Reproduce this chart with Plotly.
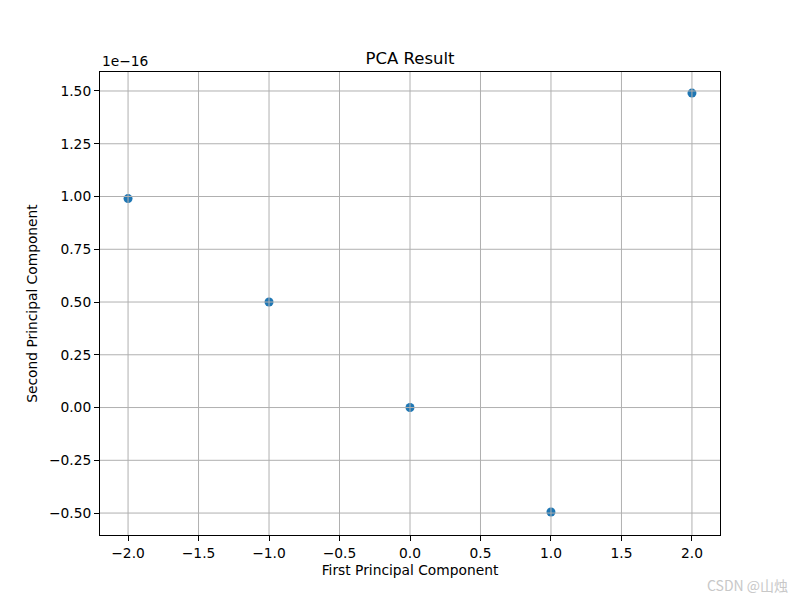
import plotly.graph_objects as go

# Data (second component in units of 1e-16)
pc1 = [-2.0, -1.0, 0.0, 1.0, 2.0]
pc2_e16 = [0.99, 0.50, 0.00, -0.495, 1.49]

x_ticks = [-2.0, -1.5, -1.0, -0.5, 0.0, 0.5, 1.0, 1.5, 2.0]
y_ticks = [-0.50, -0.25, 0.00, 0.25, 0.50, 0.75, 1.00, 1.25, 1.50]

font = "DejaVu Sans"
grid_color = "#b0b0b0"

fig = go.Figure()
fig.add_trace(go.Scatter(
    x=pc1, y=pc2_e16, mode="markers",
    marker=dict(color="#1f77b4", size=9, line=dict(width=0)),
    showlegend=False,
))

# grid drawn above the markers, as matplotlib does here
for v in x_ticks:
    fig.add_shape(type="line", xref="x", yref="paper", x0=v, x1=v, y0=0, y1=1,
                  line=dict(color=grid_color, width=1), layer="above")
for v in y_ticks:
    fig.add_shape(type="line", xref="paper", yref="y", x0=0, x1=1, y0=v, y1=v,
                  line=dict(color=grid_color, width=1), layer="above")

axis_common = dict(
    showgrid=False,
    showline=True, linecolor="black", linewidth=1.1, mirror=True,
    ticks="outside", ticklen=5, tickwidth=1.1, tickcolor="black",
    zeroline=False, layer="above traces",
    tickfont=dict(family=font, size=13.8, color="black"),
)

fig.update_layout(
    width=800, height=600,
    margin=dict(l=100, r=80, t=72, b=65),
    paper_bgcolor="white", plot_bgcolor="white",
    title=dict(text="PCA Result", x=0.5, xref="paper", y=1 - 58 / 600, yanchor="middle",
               font=dict(family=font, size=16.5, color="black")),
    xaxis=dict(range=[-2.199, 2.199], tickvals=x_ticks,
               ticktext=[f"{v:.1f}".replace("-", "−") for v in x_ticks],
               title=dict(text="First Principal Component", standoff=5,
                          font=dict(family=font, size=13.8, color="black")),
               **axis_common),
    yaxis=dict(range=[-0.604, 1.59], tickvals=y_ticks,
               ticktext=[f"{v:.2f}".replace("-", "−") for v in y_ticks],
               title=dict(text="Second Principal Component", standoff=8,
                          font=dict(family=font, size=13.8, color="black")),
               **axis_common),
    annotations=[
        dict(text="1e−16", xref="paper", yref="paper", x=0, y=1, xanchor="left",
             yanchor="bottom", yshift=1, showarrow=False,
             font=dict(family=font, size=13.8, color="black")),
        dict(text="CSDN @山烛", xref="paper", yref="paper", x=1, y=0, xanchor="right",
             yanchor="top", xshift=70, yshift=-38, showarrow=False,
             font=dict(family="Noto Sans CJK SC", size=14, color="#c8c8c8")),
    ],
)

fig.write_html(
    "out.html",
    config={"displayModeBar": False},
    post_script="document.body.style.margin='0';document.body.style.overflow='hidden';",
)
